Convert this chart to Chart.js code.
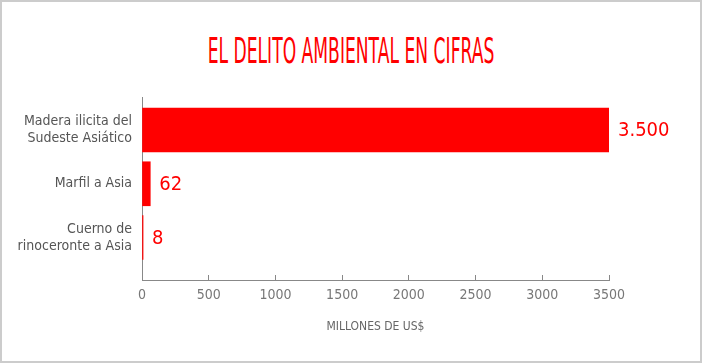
<!DOCTYPE html>
<html>
<head>
<meta charset="utf-8">
<script src="https://cdn.jsdelivr.net/npm/chart.js@4/dist/chart.umd.min.js"></script>
<style>
  html, body { margin: 0; padding: 0; background: #fff; }
  #frame {
    position: relative;
    width: 702px; height: 363px;
    box-sizing: border-box;
    border: 2px solid #cccccc;
    background: #fff;
    overflow: hidden;
  }
  #title {
    position: absolute; left: 0; top: 32px; width: 100%;
    text-align: center;
    font-family: "DejaVu Sans", sans-serif;
    font-size: 35px; line-height: 1;
    color: #ff0000;
    transform: scaleX(0.49);
    white-space: nowrap;
  }
  #chart { position: absolute; left: 0; top: 0; }
</style>
</head>
<body>
<div id="frame">
  <div id="title">EL DELITO AMBIENTAL EN CIFRAS</div>
  <canvas id="chart" width="698" height="359"></canvas>
</div>
<script>
// ── Data ──────────────────────────────────────────────────────────────────────
const categories = [
  ["Madera ilicita del", "Sudeste Asiático"],
  ["Marfil a Asia"],
  ["Cuerno de", "rinoceronte a Asia"]
];
const values     = [3500, 62, 8];
const xTicks     = [0, 500, 1000, 1500, 2000, 2500, 3000, 3500];
const axisTitle  = "MILLONES DE US$";

const FONT = "'DejaVu Sans Condensed', sans-serif";
const RED  = "#ff0000";

// Spanish thousands separator ("3.500")
function fmt(v) {
  return String(v).replace(/\B(?=(\d{3})+(?!\d))/g, ".");
}

// ── Value labels at the end of each bar ──────────────────────────────────────
const valueLabels = {
  id: "valueLabels",
  afterDatasetsDraw(chart) {
    const ctx = chart.ctx;
    const meta = chart.getDatasetMeta(0);
    ctx.save();
    ctx.fillStyle = RED;
    ctx.font = `20px ${FONT}`;
    ctx.textAlign = "left";
    ctx.textBaseline = "middle";
    meta.data.forEach((bar, i) => {
      ctx.fillText(fmt(values[i]), bar.x + 9, bar.y + 1);
    });
    ctx.restore();
  }
};

new Chart(document.getElementById("chart").getContext("2d"), {
  type: "bar",
  data: {
    datasets: [{
      data: values.map((v, i) => ({ x: v, y: i })),
      backgroundColor: RED,
      borderWidth: 0,
      barThickness: 44
    }]
  },
  options: {
    indexAxis: "y",
    responsive: false,
    animation: false,
    layout: { padding: { top: 95, right: 91, bottom: 0, left: 0 } },
    scales: {
      x: {
        type: "linear",
        min: 0,
        max: 3500,
        afterBuildTicks: s => { s.ticks = xTicks.map(v => ({ value: v })); },
        afterFit: s => { s.height = 81; },
        grid: { drawOnChartArea: false, drawTicks: true, tickLength: -5, color: "#888" },
        border: { display: true, color: "#888", width: 1 },
        ticks: {
          color: "#777",
          font: { family: FONT, size: 14 },
          padding: 12,
          callback: v => String(v)
        },
        title: {
          display: true,
          text: axisTitle,
          color: "#666",
          font: { family: FONT, size: 12 },
          padding: { top: 0, bottom: 27 }
        }
      },
      y: {
        type: "linear",
        reverse: true,
        offset: false,
        min: -0.614,
        max: 2.79,
        afterBuildTicks: s => { s.ticks = categories.map((c, i) => ({ value: i })); },
        afterFit: s => { s.width = 140; },
        grid: { display: false, drawTicks: false },
        border: { display: true, color: "#888", width: 1 },
        ticks: {
          color: "#555",
          font: { family: FONT, size: 14, lineHeight: 1.2 },
          padding: 10,
          callback: v => categories[v] || ""
        }
      }
    },
    plugins: {
      legend: { display: false },
      tooltip: { enabled: false }
    }
  },
  plugins: [valueLabels]
});
</script>
</body>
</html>
